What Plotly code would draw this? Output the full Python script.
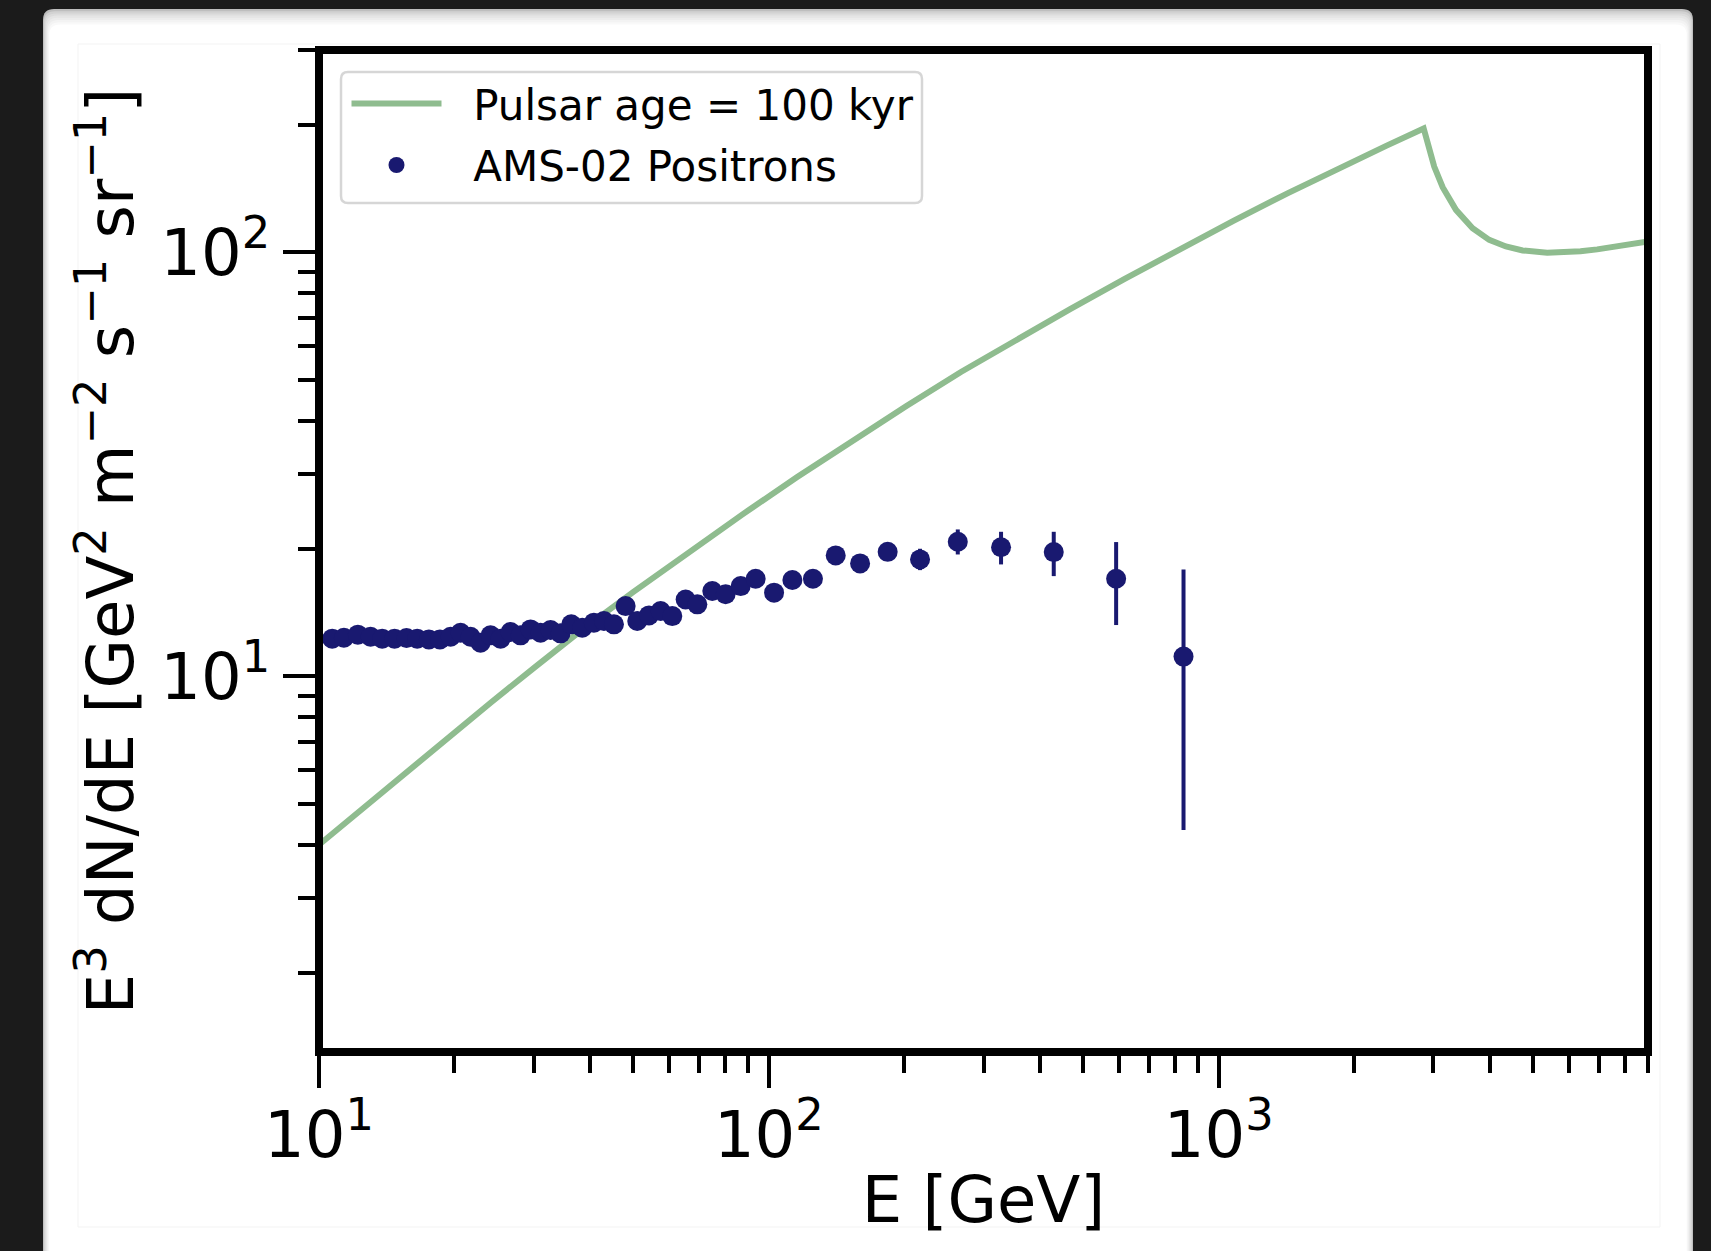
import math
import plotly.graph_objects as go

# ---------------- data ----------------
pulsar_E = [10, 12.38, 15.47, 19.35, 24.19, 30.25, 37.8, 50.0, 66.2, 87.4, 115.6, 152.9,
            202.2, 267.3, 353.4, 467.4, 618.0, 817.1, 1080.6, 1429, 1889, 2362, 2855,
            2913, 3013, 3146, 3368, 3667, 3993, 4349, 4738, 5373, 5851, 6371, 6939,
            7556, 8810, 9000]
pulsar_F = [4.005, 4.84, 5.90, 7.17, 8.70, 10.53, 12.70, 15.81, 19.58, 24.1, 29.5, 35.9,
            43.4, 52.2, 62.05, 73.47, 86.55, 101.7, 118.8, 138.1, 159.6, 178.5, 195.8,
            182.4, 159.3, 142.4, 125.9, 114.0, 107.0, 103.2, 101.0, 99.8, 99.8, 100.6, 101.6,
            102.9, 105.7, 106.1]

ams_E = [10.70, 11.36, 12.20, 13.02, 13.82, 14.72, 15.65, 16.53, 17.55, 18.57,
         19.61, 20.64, 21.72, 22.86, 24.06, 25.33, 26.66, 28.06, 29.53, 31.08,
         32.72, 34.43, 36.37, 38.48, 40.84, 43.00, 45.25, 48.04, 50.99, 54.14,
         57.46, 61.0, 65.31, 69.34, 74.86, 80.14, 86.58, 93.46, 102.7, 112.8,
         125.3, 140.8, 159.5, 183.7, 216.8, 263.0, 328.2, 429.8, 591.5, 835.1]
ams_F = [12.27, 12.33, 12.54, 12.40, 12.27, 12.27, 12.31, 12.27, 12.22, 12.22,
         12.40, 12.67, 12.40, 12.00, 12.49, 12.27, 12.72, 12.49, 12.90, 12.67,
         12.86, 12.63, 13.26, 13.02, 13.38, 13.50, 13.26, 14.64, 13.50, 13.92,
         14.25, 13.87, 15.18, 14.78, 15.89, 15.61, 16.32, 16.99, 15.75, 16.87,
         16.99, 19.28, 18.46, 19.66, 18.87, 20.77, 20.16, 19.63, 16.99, 11.13]
ams_err_up = [0.20, 0.20, 0.21, 0.21, 0.21, 0.21, 0.22, 0.22, 0.22, 0.23,
              0.23, 0.24, 0.24, 0.24, 0.25, 0.25, 0.26, 0.26, 0.27, 0.28,
              0.28, 0.29, 0.30, 0.31, 0.32, 0.33, 0.34, 0.36, 0.37, 0.38,
              0.40, 0.41, 0.44, 0.46, 0.49, 0.51, 0.55, 0.58, 0.58, 0.62,
              0.66, 0.74, 0.80, 0.90, 1.12, 1.43, 1.76, 2.29, 3.74, 6.74]
ams_err_dn = [0.20, 0.20, 0.21, 0.21, 0.21, 0.21, 0.22, 0.22, 0.22, 0.23,
              0.23, 0.24, 0.24, 0.24, 0.25, 0.25, 0.26, 0.26, 0.27, 0.28,
              0.28, 0.29, 0.30, 0.31, 0.32, 0.33, 0.34, 0.36, 0.37, 0.38,
              0.40, 0.41, 0.44, 0.46, 0.49, 0.51, 0.55, 0.58, 0.58, 0.62,
              0.66, 0.74, 0.80, 0.90, 1.07, 1.39, 1.80, 2.40, 3.78, 6.79]

x_major = [10, 100, 1000]
x_major_text = ["10<sup>1</sup>", "10<sup>2</sup>", "10<sup>3</sup>"]
x_minor = [m * d for d in (10, 100, 1000) for m in range(2, 10)]
y_major = [10, 100]
y_major_text = ["10<sup>1</sup>", "10<sup>2</sup>"]
y_minor = [m for m in range(2, 10)] + [m * 10 for m in range(2, 10)] + [200, 300]

x_range = [10, 9000]
y_range = [1.3, 300]

# ---------------- layout geometry ----------------
W, H = 1711, 1251
L, R, T, B = 319, 63, 50, 199
PW, PH = W - L - R, H - T - B
FONT = "DejaVu Sans"
GREEN = "#8fbc8f"
NAVY = "#191970"
NBSP = "\u00a0"


def px(x):
    return (x - L) / PW


def py(y):
    return 1 - (y - T) / PH


def rrect(x0, y0, x1, y1, r):
    X0, X1, Y0, Y1 = px(x0), px(x1), py(y0), py(y1)
    rx, ry = r / PW, r / PH
    return (f"M{X0+rx},{Y0} L{X1-rx},{Y0} Q{X1},{Y0} {X1},{Y0-ry} "
            f"L{X1},{Y1+ry} Q{X1},{Y1} {X1-rx},{Y1} L{X0+rx},{Y1} "
            f"Q{X0},{Y1} {X0},{Y1+ry} L{X0},{Y0-ry} Q{X0},{Y0} {X0+rx},{Y0} Z")


fig = go.Figure()
fig.add_trace(go.Scatter(
    x=pulsar_E, y=pulsar_F, mode="lines", name=NBSP * 2 + "Pulsar age = 100 kyr",
    line=dict(color=GREEN, width=6), legendgroup="a"))
fig.add_trace(go.Scatter(
    x=ams_E, y=ams_F, mode="markers", name=NBSP * 2 + "AMS-02 Positrons",
    marker=dict(color=NAVY, size=20, line=dict(width=0)),
    error_y=dict(type="data", symmetric=False, array=ams_err_up, arrayminus=ams_err_dn,
                 color=NAVY, thickness=4, width=0),
    legendgroup="b"))

shapes = []
# card with soft inner shadow
steps = 8
for i in range(steps):
    t = i / (steps - 1)
    c = int(190 + (255 - 190) * (t ** 0.6))
    shapes.append(dict(type="path", xref="paper", yref="paper", layer="below",
                       path=rrect(43 + i * 0.9, 9 + i * 2.2, 1693 - i * 0.9, 1320, 11),
                       fillcolor=f"rgb({c},{c},{c})", line=dict(width=0)))
# faint figure border
shapes.append(dict(type="rect", xref="paper", yref="paper", layer="below",
                   x0=px(78), x1=px(1660), y0=py(44), y1=py(1227),
                   line=dict(color="#f3f3f3", width=1), fillcolor="rgba(0,0,0,0)"))
# legend box
shapes.append(dict(type="path", xref="paper", yref="paper", layer="below",
                   path=rrect(341, 72, 922, 203, 7),
                   fillcolor="rgba(255,255,255,0.8)", line=dict(color="#d6d6d6", width=2.5)))
# axes frame (spines)
shapes.append(dict(type="rect", xref="paper", yref="paper", layer="above",
                   x0=0, x1=1, y0=0, y1=1, line=dict(color="black", width=8),
                   fillcolor="rgba(0,0,0,0)"))

axis_common = dict(
    type="log", showgrid=False, zeroline=False, showline=False,
    ticks="outside", ticklen=35, tickwidth=4, tickcolor="black",
    tickfont=dict(family=FONT, size=64, color="black"),
    tickmode="array",
)

fig.update_layout(
    width=W, height=H, autosize=False,
    margin=dict(l=L, r=R, t=T, b=B, pad=0),
    paper_bgcolor="#1b1b1b", plot_bgcolor="rgba(0,0,0,0)",
    font=dict(family=FONT, color="black"),
    shapes=shapes,
    showlegend=True,
    legend=dict(x=px(346.5), y=py(69.6), xanchor="left", yanchor="top",
                bgcolor="rgba(0,0,0,0)", borderwidth=0,
                font=dict(family=FONT, size=42, color="black"),
                itemwidth=90, tracegroupgap=4, traceorder="grouped"),
    xaxis=dict(axis_common, range=[math.log10(x_range[0]), math.log10(x_range[1])],
               tickvals=x_major, ticktext=x_major_text, ticklabelstandoff=-8,
               minor=dict(tickvals=x_minor, ticks="outside", ticklen=20, tickwidth=4,
                          tickcolor="black", showgrid=False),
               title=dict(text="E [GeV]", font=dict(family=FONT, size=64, color="black"),
                          standoff=6)),
    yaxis=dict(axis_common, range=[math.log10(y_range[0]), math.log10(y_range[1])],
               tickvals=y_major, ticktext=y_major_text, ticklabelstandoff=0,
               minor=dict(tickvals=y_minor, ticks="outside", ticklen=20, tickwidth=4,
                          tickcolor="black", showgrid=False),
               title=dict(text="E<sup>3</sup> dN/dE [GeV<sup>2</sup> m<sup>−2</sup> "
                               "s<sup>−1</sup> sr<sup>−1</sup>]",
                          font=dict(family=FONT, size=64, color="black"), standoff=5)),
)

fig.write_html("out.html", config={"displayModeBar": False})
